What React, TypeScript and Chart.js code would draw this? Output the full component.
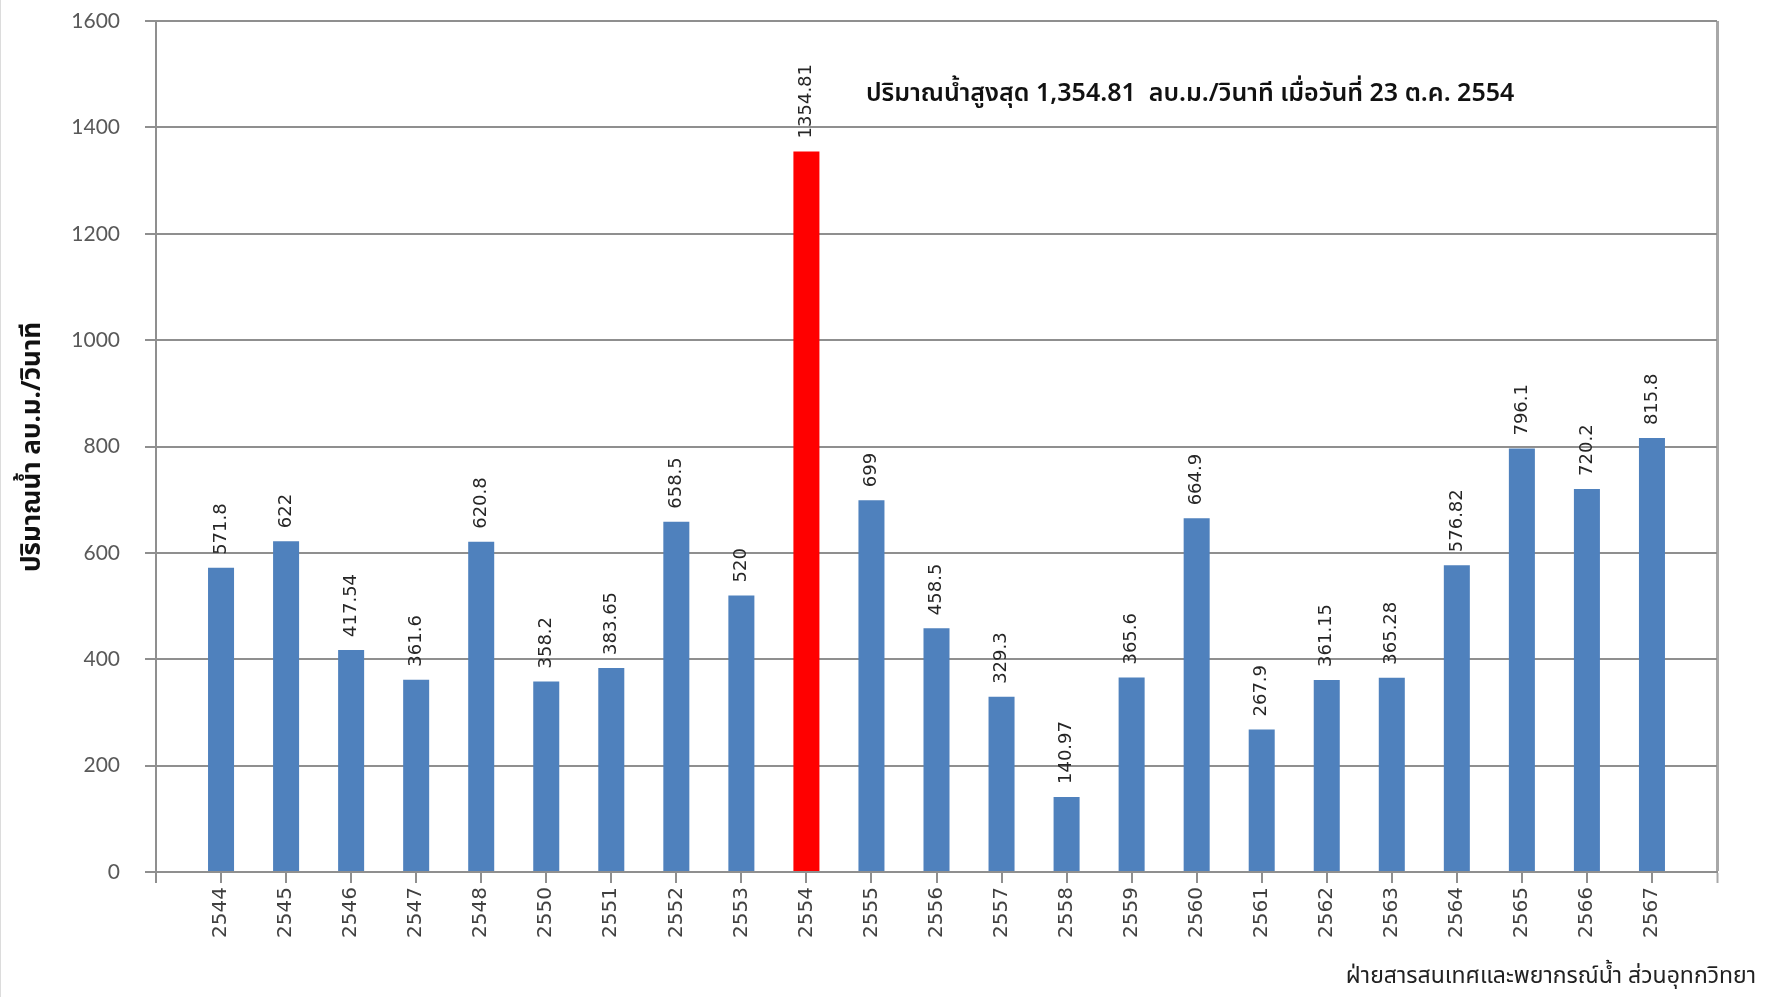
import React, { useEffect, useRef } from "react";
import { Chart, registerables } from "chart.js";

Chart.register(...registerables);

// ---- data ----
const years: string[] = [
  "2544", "2545", "2546", "2547", "2548", "2550", "2551", "2552", "2553", "2554",
  "2555", "2556", "2557", "2558", "2559", "2560", "2561", "2562", "2563", "2564",
  "2565", "2566", "2567",
];
const peakFlow: number[] = [
  571.8, 622, 417.54, 361.6, 620.8, 358.2, 383.65, 658.5, 520, 1354.81,
  699, 458.5, 329.3, 140.97, 365.6, 664.9, 267.9, 361.15, 365.28, 576.82,
  796.1, 720.2, 815.8,
];
const highlightYear = "2554";
const yMin = 0;
const yMax = 1600;
const yStep = 200;

const yAxisTitle = "ปริมาณน้ำ ลบ.ม./วินาที";
const annotationText = "ปริมาณน้ำสูงสุด 1,354.81  ลบ.ม./วินาที เมื่อวันที่ 23 ต.ค. 2554";
const footerText = "ฝ่ายสารสนเทศและพยากรณ์น้ำ ส่วนอุทกวิทยา";

// padded category list: one empty slot at each end
const categories: string[] = ["", ...years, ""];
const values: (number | null)[] = [null, ...peakFlow, null];

const BLUE = "#4F81BD";
const RED = "#FF0000";
const GRID = "#8f8f8f";
const EDGE = "#a8a8a8";
const THAI_FONT = "Tahoma, 'Noto Sans Thai', 'Noto Sans', 'DejaVu Sans', sans-serif";

const textPlugin = {
  id: "customTexts",
  afterDatasetsDraw(chart: any) {
    const ctx: CanvasRenderingContext2D = chart.ctx;
    const meta = chart.getDatasetMeta(0);
    ctx.save();
    // value labels
    ctx.font = "18px 'DejaVu Sans', sans-serif";
    ctx.fillStyle = "#262626";
    meta.data.forEach((bar: any, i: number) => {
      const v = values[i];
      if (v == null) return;
      ctx.save();
      ctx.translate(bar.x, bar.y - 13);
      ctx.rotate(-Math.PI / 2);
      ctx.textAlign = "left";
      ctx.textBaseline = "middle";
      ctx.fillText(String(v), 0, 0);
      ctx.restore();
    });
    // annotation
    ctx.font = `600 25px ${THAI_FONT}`;
    ctx.fillStyle = "#111";
    ctx.textAlign = "left";
    ctx.textBaseline = "middle";
    ctx.fillText(annotationText, 866, 96);
    // y-axis title
    ctx.save();
    ctx.translate(35, 447);
    ctx.rotate(-Math.PI / 2);
    ctx.textAlign = "center";
    ctx.textBaseline = "middle";
    ctx.font = `bold 26px ${THAI_FONT}`;
    ctx.fillStyle = "#111";
    ctx.fillText(yAxisTitle, 0, 0);
    ctx.restore();
    // footer
    ctx.font = `23px ${THAI_FONT}`;
    ctx.fillStyle = "#222";
    ctx.textAlign = "right";
    ctx.textBaseline = "middle";
    ctx.fillText(footerText, 1756, 978);
    ctx.restore();
  },
};

export default function App() {
  const canvasRef = useRef<HTMLCanvasElement | null>(null);

  useEffect(() => {
    if (!canvasRef.current) return;
    const lastIdx = categories.length - 1;
    const chart = new Chart(canvasRef.current, {
      type: "bar",
      data: {
        labels: categories,
        datasets: [
          {
            data: values,
            backgroundColor: categories.map((c) => (c === highlightYear ? RED : BLUE)),
            barPercentage: 0.4,
            categoryPercentage: 1,
            borderWidth: 0,
          },
        ],
      },
      options: {
        animation: false,
        responsive: false,
        maintainAspectRatio: false,
        devicePixelRatio: 1,
        layout: { padding: { top: 21, right: 51, left: 0, bottom: 0 } },
        plugins: {
          legend: { display: false },
          tooltip: { enabled: false },
          title: { display: false },
        },
        scales: {
          x: {
            type: "category",
            offset: false,
            grid: {
              display: true,
              offset: false,
              drawOnChartArea: true,
              drawTicks: true,
              tickLength: 11,
              lineWidth: (c: any) => (c.index === lastIdx ? 3 : 2),
              color: (c: any) =>
                c.index === 0 ? GRID : c.index === lastIdx ? EDGE : "rgba(0,0,0,0)",
              tickColor: (c: any) => (c.index === lastIdx ? EDGE : GRID),
              tickWidth: 2,
            },
            border: { display: true, color: GRID, width: 2 },
            ticks: {
              autoSkip: false,
              maxRotation: 90,
              minRotation: 90,
              padding: 4,
              color: "#404040",
              font: { family: "'DejaVu Sans', sans-serif", size: 20 },
            },
            afterFit: (s: any) => {
              s.height = 125;
              s.paddingLeft = 0;
              s.paddingRight = 0;
              s.paddingTop = 0;
              s.paddingBottom = 0;
            },
          },
          y: {
            min: yMin,
            max: yMax,
            grid: {
              display: true,
              color: GRID,
              lineWidth: 2,
              tickLength: 11,
              drawTicks: true,
            },
            border: { display: true, color: GRID, width: 2 },
            ticks: {
              stepSize: yStep,
              padding: 25,
              color: "#595959",
              font: { family: "Lato, 'Open Sans', sans-serif", size: 21 },
              callback: (v: any) => String(v),
            },
            afterFit: (s: any) => {
              s.width = 156;
              s.paddingTop = 0;
              s.paddingBottom = 0;
              s.paddingLeft = 0;
              s.paddingRight = 0;
            },
          },
        },
      },
      plugins: [textPlugin],
    } as any);
    return () => chart.destroy();
  }, []);

  return (
    <div
      style={{
        position: "absolute",
        left: 0,
        top: 0,
        width: 1768,
        height: 997,
        background: "#fff",
      }}
    >
      <canvas
        ref={canvasRef}
        width={1768}
        height={997}
        style={{ width: 1768, height: 997, display: "block" }}
      />
      <div
        style={{
          position: "absolute",
          left: 0,
          top: 0,
          width: 1,
          height: 997,
          background: "#dcdcdc",
        }}
      />
    </div>
  );
}
